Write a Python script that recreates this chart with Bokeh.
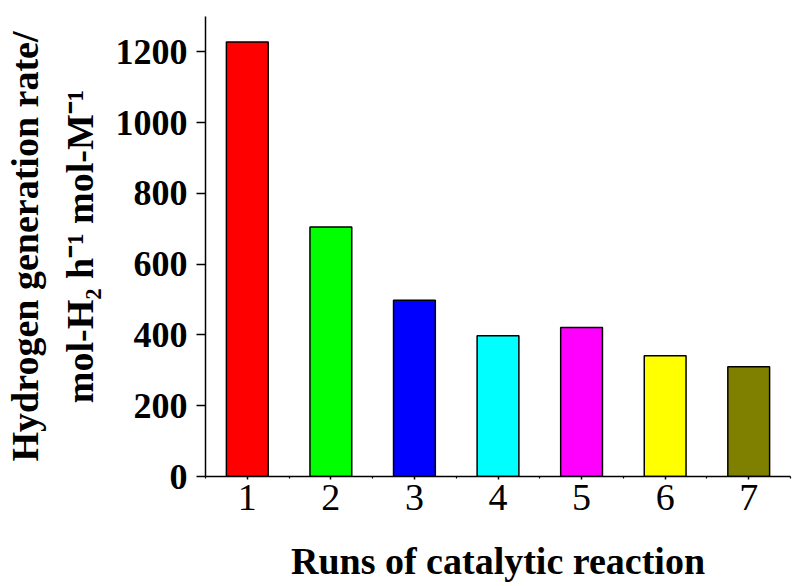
from bokeh.plotting import figure
from bokeh.models import FixedTicker, ColumnDataSource, Range1d
from bokeh.embed import file_html
from bokeh.resources import INLINE

runs = [1, 2, 3, 4, 5, 6, 7]
rates = [1228, 705, 498, 398, 421, 341, 310]
colors = ["#FF0000", "#00FF00", "#0000FF", "#00FFFF", "#FF00FF", "#FFFF00", "#808000"]
y_ticks = [0, 200, 400, 600, 800, 1000, 1200]
x_minor = [0.5, 1.5, 2.5, 3.5, 4.5, 5.5, 6.5, 7.5]

src = ColumnDataSource(dict(x=runs, top=rates, color=colors))

p = figure(width=794, height=586, output_backend="svg", toolbar_location=None,
           x_range=Range1d(0.5, 7.5), y_range=Range1d(0, 1300),
           min_border_left=204, min_border_right=4, min_border_top=16, min_border_bottom=110)

p.vbar(x="x", top="top", width=0.5, bottom=0, fill_color="color",
       line_color="black", line_width=1.5, source=src)

p.outline_line_color = None
p.xgrid.visible = False
p.ygrid.visible = False
p.background_fill_color = "white"
p.border_fill_color = "white"

font = "Liberation Serif"

xa = p.xaxis[0]
xa.ticker = FixedTicker(ticks=runs, minor_ticks=x_minor)
xa.axis_label = "Runs of catalytic reaction"
xa.axis_label_text_font = font
xa.axis_label_text_font_style = "bold"
xa.axis_label_text_font_size = "38px"
xa.axis_label_text_color = "black"
xa.axis_label_standoff = 27
xa.major_label_text_font = font
xa.major_label_text_font_style = "normal"
xa.major_label_text_font_size = "38px"
xa.major_label_text_color = "black"
xa.major_label_standoff = 5
xa.major_tick_out = 3
xa.major_tick_in = 0
xa.minor_tick_out = 2
xa.minor_tick_in = 0
xa.axis_line_width = 1.5
xa.major_tick_line_width = 1.5
xa.minor_tick_line_width = 1.2
xa.axis_line_color = "black"

ya = p.yaxis[0]
ya.ticker = FixedTicker(ticks=y_ticks, minor_ticks=[])
ya.axis_label = "Hydrogen generation rate/\nmol-H\u2082 h\u207b\u00b9 mol-M\u207b\u00b9"
ya.axis_label_text_font = font
ya.axis_label_text_font_style = "bold"
ya.axis_label_text_font_size = "38px"
ya.axis_label_text_color = "black"
ya.axis_label_text_line_height = 1.3
ya.axis_label_standoff = 12
ya.major_label_text_font = font
ya.major_label_text_font_style = "bold"
ya.major_label_text_font_size = "36px"
ya.major_label_text_color = "black"
ya.major_label_standoff = 9
ya.major_tick_out = 9
ya.major_tick_in = 0
ya.minor_tick_out = 0
ya.minor_tick_in = 0
ya.axis_line_width = 1.5
ya.major_tick_line_width = 1.5
ya.axis_line_color = "black"

open("out.html", "w").write(file_html(p, INLINE))
